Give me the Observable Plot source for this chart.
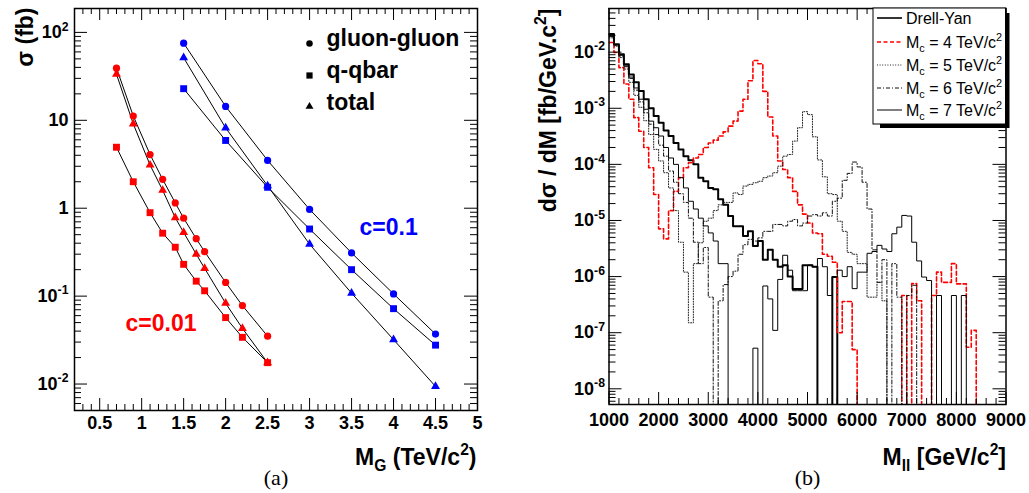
<!DOCTYPE html>
<html><head><meta charset="utf-8">
<script src="https://cdn.jsdelivr.net/npm/d3@7"></script>
<script src="https://cdn.jsdelivr.net/npm/@observablehq/plot@0.6"></script>
<style>
body{margin:0;background:#fff;}
#wrap{position:relative;width:1029px;height:493px;overflow:hidden;background:#fff;}
#wrap svg{position:absolute;top:0;}
</style></head><body><div id="wrap"></div>
<script>
// ---------- panel (a): cross sections vs graviton mass ----------
const massC001 = [0.7, 0.9, 1.1, 1.25, 1.4, 1.5, 1.65, 1.75, 2.0, 2.2, 2.5];
const ggC001  = [39.2, 11.2, 4.08, 2.13, 1.15, 0.77, 0.45, 0.32, 0.143, 0.078, 0.035];
const qqC001  = [4.94, 2.0, 0.89, 0.52, 0.36, 0.23, 0.148, 0.115, 0.057, 0.034, 0.0175];
const totC001 = [33.5, 9.1, 3.1, 1.6, 0.78, 0.53, 0.30, 0.207, 0.083, 0.043, 0.0175];

const massC01 = [1.5, 2.0, 2.5, 3.0, 3.5, 4.0, 4.5];
const ggC01  = [75.5, 14.4, 3.5, 0.97, 0.31, 0.106, 0.037];
const qqC01  = [22.9, 5.9, 1.73, 0.58, 0.20, 0.072, 0.0277];
const totC01 = [51.5, 8.2, 1.8, 0.39, 0.108, 0.032, 0.0094];

const processes = ["gluon-gluon", "q-qbar", "total"];
const xTicksA = [0.5, 1, 1.5, 2, 2.5, 3, 3.5, 4, 4.5, 5];
const yTicksA = [0.01, 0.1, 1, 10, 100];

// ---------- panel (b): dilepton mass spectra, 100 GeV bins from 1000 ----------
const mllFirst = 1000, mllWidth = 100;
const drellYan = [0.021,0.0139,0.0092,0.0061,0.0040,0.0029,0.00204,0.00145,0.00100,7.3e-4,
 5.5e-4,4.0e-4,3.2e-4,2.4e-4,1.85e-4,1.4e-4,1.18e-4,1.0e-4,5.8e-5,5.0e-5,
 3.8e-5,3.6e-5,2.4e-5,1.9e-5,1.2e-5,7.9e-6,7.9e-6,5.3e-6,6.4e-6,3.5e-6,
 4.3e-6,2.0e-6,3.0e-6,2.0e-6,1.5e-6,1.6e-6,1.0e-6,6e-7,6e-7,1.6e-6,
 1.6e-6,1.5e-6,0,0,0,9.8e-7,0,0,0,0,
 0,0,0,0,0,0,0,0,0,0,
 0,0,0,0,0,0,0,0,0,0,
 0,0,0,0,0,0,0,0,0,0];
const mc4 = [0.0149,0.0099,0.0053,0.0027,0.00145,6.8e-4,3.9e-4,2.0e-4,8.7e-5,2.9e-5,
 7.1e-6,4.7e-6,1.5e-5,3.3e-5,5.8e-5,8.7e-5,1.07e-4,1.3e-4,1.5e-4,2.0e-4,
 2.4e-4,2.7e-4,3.2e-4,3.8e-4,4.8e-4,5.9e-4,8.9e-4,1.45e-3,3.1e-3,7.1e-3,
 6.2e-3,2.0e-3,7e-4,3.2e-4,1.15e-4,8.1e-5,5.8e-5,3.3e-5,1.9e-5,1.3e-5,
 9e-6,6e-6,5.8e-6,2.5e-6,2.3e-6,1.8e-6,1e-7,3.6e-7,3.6e-7,5e-8,
 0,0,0,0,0,0,0,0,0,4.6e-7,
 0,7.5e-7,3.7e-7,0,0,4.6e-7,1.2e-6,7.9e-7,7.9e-7,1.7e-6,
 7.4e-7,7.4e-7,5.5e-8,1.1e-7,0,0,0,0,0,0];
const mc5 = [0.018,0.0128,0.0080,0.0050,0.0029,0.0017,0.00104,6.0e-4,3.4e-4,1.85e-4,
 1.15e-4,7.1e-5,3.8e-5,1.5e-5,4.1e-6,1.2e-6,1.5e-7,1.7e-6,4e-6,9.7e-6,
 1.1e-5,1.5e-5,1.9e-5,2.1e-5,2.1e-5,3.1e-5,2.9e-5,4.1e-5,4.4e-5,4.7e-5,
 5.0e-5,5.8e-5,6.2e-5,7.1e-5,9.3e-5,1.4e-4,1.5e-4,2.6e-4,4.5e-4,8.7e-4,
 7.7e-4,3.1e-4,1.2e-4,6e-5,3.0e-5,2.9e-5,9.7e-6,6.4e-6,2.7e-6,2.5e-6,
 1.7e-6,1.7e-6,4.3e-7,4.3e-7,7.9e-7,3.7e-7,0,0,0,0,
 0,0,0,0,0,0,0,0,0,0,
 0,0,0,0,0,0,0,0,0,0];
const mc6 = [0.019,0.0132,0.0085,0.0055,0.0034,0.0021,0.0013,8.3e-4,5.2e-4,3.4e-4,
 2.2e-4,1.4e-4,7.6e-5,4.8e-5,3.0e-5,2.1e-5,1.1e-5,4.1e-6,1.7e-6,3.3e-6,
 4.3e-7,0,3.7e-7,7.2e-7,1.0e-6,1.25e-6,2.5e-6,3.7e-6,4.6e-6,4.3e-6,
 4.9e-6,6.4e-6,6.4e-6,8.5e-6,8.5e-6,8e-6,9.7e-6,1.04e-5,8e-6,9e-6,
 1.2e-5,1.27e-5,1.2e-5,1.37e-5,1.2e-5,2.2e-5,2.5e-5,5.2e-5,6.9e-5,1.1e-4,
 9e-5,4.8e-5,1.6e-5,3e-6,7.9e-7,2e-6,0,1.7e-6,4.3e-7,0,
 4.6e-7,7e-7,0,0,0,0,0,0,0,0,
 0,0,0,0,0,0,0,0,0,0];
const mc7 = [0.020,0.0135,0.0088,0.0057,0.0036,0.0023,0.00145,9.6e-4,5.9e-4,4.5e-4,
 3.2e-4,2.0e-4,1.3e-4,1.0e-4,5.8e-5,3.8e-5,2.2e-5,1.6e-5,1.1e-5,8e-6,
 6e-6,4.3e-6,1.7e-6,1.7e-6,0,0,0,0,0,5.3e-8,
 0,6.8e-7,4e-7,1.1e-7,8.9e-7,2.4e-6,1.3e-6,5.6e-7,5.6e-7,5.6e-7,
 1.6e-6,1.5e-6,2.1e-6,1.5e-6,4.6e-7,9.8e-7,1.3e-6,1.0e-6,1.5e-6,6.1e-7,
 1.2e-6,1.2e-6,2.6e-6,2.8e-6,3.6e-6,3.1e-6,2.8e-6,5.8e-6,7.6e-6,1.23e-5,
 1.2e-5,4.1e-6,1.9e-6,9.8e-7,8.5e-7,0,4.6e-7,0,0,4.6e-7,
 0,4.6e-7,0,0,0,0,0,0,0,0];
const seriesNames = ["Drell-Yan", "M_{c} = 4 TeV/c^{2}", "M_{c} = 5 TeV/c^{2}", "M_{c} = 6 TeV/c^{2}", "M_{c} = 7 TeV/c^{2}"];
const xTicksB = [1000, 2000, 3000, 4000, 5000, 6000, 7000, 8000, 9000];
const yTicksB = [1e-8, 1e-7, 1e-6, 1e-5, 1e-4, 1e-3, 1e-2];

// ---------- helpers ----------
const FONT = "'Liberation Sans', Arial, Helvetica, sans-serif";
const SERIF = "'Liberation Serif', 'Times New Roman', serif";
const NS = "http://www.w3.org/2000/svg";

function rich(root) {
  root.querySelectorAll("text").forEach(el => {
    const s = el.textContent;
    if (!/[_^]\{/.test(s)) return;
    const fs = parseFloat(getComputedStyle(el).fontSize) || 16;
    while (el.firstChild) el.removeChild(el.firstChild);
    const re = /([_^])\{([^}]*)\}/g;
    let last = 0, m, shift = 0;
    const add = (txt, size, dy) => {
      const t = document.createElementNS(NS, "tspan");
      t.textContent = txt;
      if (size) t.setAttribute("font-size", size);
      if (dy) t.setAttribute("dy", dy);
      el.appendChild(t);
    };
    while ((m = re.exec(s))) {
      if (m.index > last) { add(s.slice(last, m.index), null, -shift); shift = 0; }
      const d = m[1] === "^" ? -0.42 * fs : 0.25 * fs;
      add(m[2], 0.68 * fs, d - shift); shift = d;
      last = re.lastIndex;
    }
    if (last < s.length) add(s.slice(last), null, -shift);
  });
}
const logFmt = d => d === 1 ? "1" : d === 10 ? "10" : "10^{" + Math.round(Math.log10(d)) + "}";
function minorLog(lo, hi, k0, k1) {
  const out = [];
  for (let k = k0; k <= k1; k++) for (let m = 2; m <= 9; m++) {
    const v = m * Math.pow(10, k);
    if (v >= lo && v <= hi) out.push(v);
  }
  return out;
}
function frameTicks(xMaj, xMin, yMaj, yMin, FW, FH, lx, sx, ly, sy) {
  const st = {stroke: "black", strokeWidth: 1};
  return [
    Plot.ruleX(xMaj, {...st, insetTop: FH - lx}), Plot.ruleX(xMin, {...st, insetTop: FH - sx}),
    Plot.ruleX(xMaj, {...st, insetBottom: FH - lx}), Plot.ruleX(xMin, {...st, insetBottom: FH - sx}),
    Plot.ruleY(yMaj, {...st, insetRight: FW - ly}), Plot.ruleY(yMin, {...st, insetRight: FW - sy}),
    Plot.ruleY(yMaj, {...st, insetLeft: FW - ly}), Plot.ruleY(yMin, {...st, insetLeft: FW - sy})
  ];
}
const wrap = document.getElementById("wrap");

// ---------- panel (a) ----------
const rowsA = [];
[[massC001, [ggC001, qqC001, totC001], "#ff0000", "c001"], [massC01, [ggC01, qqC01, totC01], "#0000ff", "c01"]]
  .forEach(([mass, sets, color, tag]) => sets.forEach((vals, p) =>
    mass.forEach((m, i) => rowsA.push({m, v: vals[i], proc: processes[p], color, key: tag + p}))));
const symbols = {"gluon-gluon": ["circle", 3.6], "q-qbar": ["square", 3.9], "total": ["triangle", 3.3]};

const FWa = 403, FHa = 402;
const xMinorA = d3.range(2, 51).filter(d => d % 5 !== 0).map(d => d / 10);
const yMinorA = minorLog(0.005, 187, -3, 2);
const legendA = processes.map((p, i) => [
  Plot.dot([p], {frameAnchor: "top-left", dx: 235, dy: [35, 67, 98][i], symbol: symbols[p][0], r: symbols[p][1] * 0.9, fill: "black"}),
  Plot.text([p], {text: d => d, frameAnchor: "top-left", dx: 252, dy: [30, 62, 94][i], textAnchor: "start", lineAnchor: "middle", fontSize: 23, fontWeight: "bold"})
]).flat();

const left = Plot.plot({
  width: 500, height: 493, marginLeft: 74, marginRight: 23, marginTop: 8, marginBottom: 83,
  x: {domain: [0.2, 5.0]},
  y: {type: "log", domain: [0.005, 187]},
  style: {fontFamily: FONT, fontSize: "18px", fontWeight: "bold", color: "black", background: "transparent", overflow: "visible"},
  marks: [
    Plot.line(rowsA, {x: "m", y: "v", z: "key", stroke: "black", strokeWidth: 1}),
    ...["#ff0000", "#0000ff"].flatMap(c => processes.map(p =>
      Plot.dot(rowsA.filter(d => d.color === c && d.proc === p), {x: "m", y: "v", symbol: symbols[p][0], r: symbols[p][1], fill: c}))),
    ...frameTicks(xTicksA, xMinorA, yTicksA, yMinorA, FWa, FHa, 12, 6, 13, 7),
    Plot.frame({stroke: "black", strokeWidth: 1.5}),
    Plot.axisX(xTicksA, {anchor: "bottom", tickSize: 0, tickPadding: 6, tickFormat: d => String(d), label: null, fontSize: 18}),
    Plot.axisY(yTicksA, {anchor: "left", tickSize: 0, tickPadding: 6, tickFormat: logFmt, label: null, fontSize: 18}),
    ...legendA,
    Plot.text(["c=0.1"], {text: d => d, frameAnchor: "top-left", dx: 285, dy: 219, textAnchor: "start", lineAnchor: "middle", fill: "#0000ff", fontSize: 23, fontWeight: "bold"}),
    Plot.text(["c=0.01"], {text: d => d, frameAnchor: "top-left", dx: 51, dy: 315, textAnchor: "start", lineAnchor: "middle", fill: "#ff0000", fontSize: 23, fontWeight: "bold"}),
    Plot.text(["σ (fb)"], {text: d => d, frameAnchor: "top-left", dx: -49, dy: -1, rotate: -90, textAnchor: "end", lineAnchor: "middle", fontSize: 23, fontWeight: "bold"}),
    Plot.text(["M_{G} (TeV/c^{2})"], {text: d => d, frameAnchor: "bottom-right", dx: -1, dy: 47, textAnchor: "end", lineAnchor: "middle", fontSize: 23, fontWeight: "bold"}),
    Plot.text(["(a)"], {text: d => d, frameAnchor: "bottom", dy: 67, lineAnchor: "middle", fontFamily: SERIF, fontWeight: "normal", fontSize: 22})
  ]
});
left.style.left = "0px";
wrap.appendChild(left);
rich(left);

// ---------- panel (b) ----------
const allSeries = [drellYan, mc4, mc5, mc6, mc7];
const styles = [
  {stroke: "black", strokeWidth: 2},
  {stroke: "#ff0000", strokeWidth: 1.6, strokeDasharray: "4,2.5"},
  {stroke: "#222", strokeWidth: 1, strokeDasharray: "1,1.6"},
  {stroke: "#111", strokeWidth: 1, strokeDasharray: "4,2,1,2"},
  {stroke: "black", strokeWidth: 1}
];
const rowsB = [];
allSeries.forEach((vals, s) => {
  vals.forEach((v, i) => rowsB.push({m: mllFirst + mllWidth * i, v: v > 0 ? v : 1e-12, s}));
  rowsB.push({m: mllFirst + mllWidth * vals.length, v: vals[vals.length - 1] > 0 ? vals[vals.length - 1] : 1e-12, s});
});
const FWb = 397, FHb = 396;
const xMinorB = d3.range(1200, 9000, 200).filter(d => d % 1000 !== 0);
const yMinorB = minorLog(5.25e-9, 0.06, -9, -2);

const right = Plot.plot({
  width: 509, height: 493, marginLeft: 88.5, marginRight: 23.5, marginTop: 8, marginBottom: 89,
  x: {domain: [1000, 9000]},
  y: {type: "log", domain: [5.25e-9, 0.06]},
  style: {fontFamily: FONT, fontSize: "18px", fontWeight: "bold", color: "black", background: "transparent", overflow: "visible"},
  marks: [
    ...allSeries.map((_, s) => Plot.line(rowsB.filter(d => d.s === s), {x: "m", y: "v", curve: "step-after", clip: true, ...styles[s]})),
    ...frameTicks(xTicksB, xMinorB, yTicksB, yMinorB, FWb, FHb, 12, 6, 13, 7),
    Plot.frame({stroke: "black", strokeWidth: 1.5}),
    Plot.axisX(xTicksB, {anchor: "bottom", tickSize: 0, tickPadding: 9, tickFormat: d => String(d), label: null, fontSize: 18}),
    Plot.axisY(yTicksB, {anchor: "left", tickSize: 0, tickPadding: 4, tickFormat: logFmt, label: null, fontSize: 18}),
    Plot.text(["dσ / dM [fb/GeV.c^{2}]"], {text: d => d, frameAnchor: "top-left", dx: -60.5, dy: 0, rotate: -90, textAnchor: "end", lineAnchor: "middle", fontSize: 23, fontWeight: "bold"}),
    Plot.text(["M_{ll} [GeV/c^{2}]"], {text: d => d, frameAnchor: "bottom-right", dx: 0, dy: 53, textAnchor: "end", lineAnchor: "middle", fontSize: 23, fontWeight: "bold"}),
    Plot.text(["(b)"], {text: d => d, frameAnchor: "bottom", dy: 73, lineAnchor: "middle", fontFamily: SERIF, fontWeight: "normal", fontSize: 22})
  ]
});
right.style.left = "520px";
wrap.appendChild(right);

// legend box for panel (b)
const lg = d3.select(right).append("g").attr("font-family", FONT).attr("font-weight", "normal").attr("text-anchor", "start");
lg.append("rect").attr("x", 360).attr("y", 13).attr("width", 129.5).attr("height", 115).attr("fill", "black");
lg.append("rect").attr("x", 353).attr("y", 8).attr("width", 132.5).attr("height", 116).attr("fill", "white").attr("stroke", "black").attr("stroke-width", 1);
const rowY = [18, 42, 65, 88, 110];
seriesNames.forEach((name, s) => {
  const st = styles[s];
  lg.append("line").attr("x1", 357).attr("x2", 382).attr("y1", rowY[s]).attr("y2", rowY[s])
    .attr("stroke", st.stroke).attr("stroke-width", Math.min(st.strokeWidth, 1.6)).attr("stroke-dasharray", st.strokeDasharray || null);
  lg.append("text").attr("x", 386).attr("y", rowY[s]).attr("dy", "0.35em").attr("font-size", 16).attr("fill", "black").attr("text-anchor", "start").text(name);
});
rich(right);
</script></body></html>
